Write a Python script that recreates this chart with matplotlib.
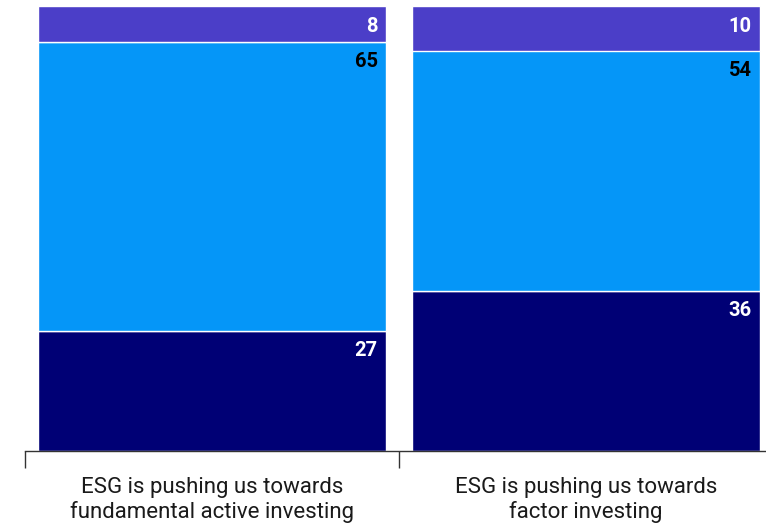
import matplotlib
matplotlib.use("Agg")
import matplotlib.pyplot as plt
import numpy as np

categories = ["ESG is pushing us towards\nfundamental active investing",
              "ESG is pushing us towards\nfactor investing"]
bottom_vals = [27, 36]
middle_vals = [65, 54]
top_vals = [8, 10]

series = [bottom_vals, middle_vals, top_vals]
colors = ["#000075", "#0596F8", "#4B3EC8"]
label_colors = ["white", "black", "white"]

plt.rcParams['font.family'] = ['Roboto', 'DejaVu Sans']

fig = plt.figure(figsize=(7.66, 5.24), dpi=100)
ax = fig.add_axes([25/766, 73/524, 748/766, 445/524])

x = np.arange(len(categories))
base = np.zeros(len(categories))
for vals, col, lc in zip(series, colors, label_colors):
    ax.bar(x, vals, bottom=base, width=0.93, color=col,
           edgecolor="white", linewidth=1.0)
    for xi, b, v in zip(x, base, vals):
        ax.annotate(f"{v}", xy=(xi + 0.465, b + v), xytext=(-6, -14.5),
                    textcoords="offset points", ha="right", va="center",
                    fontsize=14.5, fontweight="bold", color=lc,
                    family=['Roboto', 'DejaVu Sans'])
    base = base + np.array(vals)

ax.set_xlim(-0.5, 1.5)
ax.set_ylim(0, 100)
for s in ["top", "right", "left"]:
    ax.spines[s].set_visible(False)
ax.spines["bottom"].set_color("#333333")
ax.spines["bottom"].set_linewidth(1.0)
ax.set_yticks([])
ax.set_xticks(x)
ax.set_xticklabels(categories, fontsize=16, color="#1a1a1a", linespacing=1.22)
ax.tick_params(axis="x", which="major", length=0, pad=18.5)
ax.set_xticks([-0.5, 0.5], minor=True)
ax.tick_params(axis="x", which="minor", length=12, width=1.0, color="#333333")

fig.savefig("out.png", dpi=100)
